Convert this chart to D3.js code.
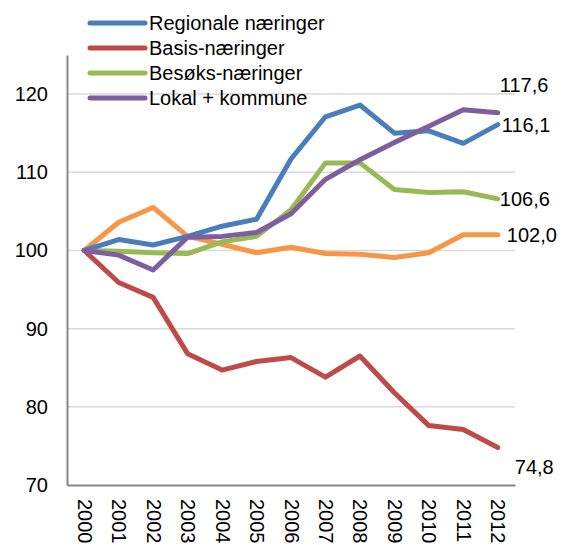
<!DOCTYPE html>
<html>
<head>
<meta charset="utf-8">
<script src="https://cdn.jsdelivr.net/npm/d3@7"></script>
<style>
  body { margin: 0; background: #fff; }
  svg { font-family: "Liberation Sans", Arial, sans-serif; }
</style>
</head>
<body>
<svg id="chart"></svg>
<script>
const years = ["2000", "2001", "2002", "2003", "2004", "2005", "2006", "2007", "2008", "2009", "2010", "2011", "2012"];
const regionale = [100, 101.4, 100.7, 101.8, 103.1, 104.0, 111.7, 117.1, 118.6, 115.0, 115.3, 113.7, 116.1];
const basis = [100, 95.9, 94.0, 86.8, 84.7, 85.8, 86.3, 83.8, 86.5, 81.8, 77.6, 77.1, 74.8];
const besoks = [100, 99.9, 99.7, 99.6, 101.1, 101.8, 105.2, 111.2, 111.2, 107.8, 107.4, 107.5, 106.6];
const lokal = [100, 99.4, 97.5, 101.7, 101.8, 102.3, 104.7, 109.1, 111.6, 113.8, 115.9, 118.0, 117.6];
const total = [100, 103.6, 105.5, 101.8, 100.8, 99.7, 100.4, 99.6, 99.5, 99.1, 99.7, 102.0, 102.0];
const yTicks = [70, 80, 90, 100, 110, 120];

const series = [
    { name: "Total", values: total, color: "#f79646", legend: false, label: "102,0", dx: 9, dy: 0 },
    { name: "Basis-næringer", values: basis, color: "#be4b48", legend: true, label: "74,8", dx: 17, dy: 20 },
    { name: "Besøks-næringer", values: besoks, color: "#98b954", legend: true, label: "106,6", dx: 2, dy: 0 },
    { name: "Regionale næringer", values: regionale, color: "#4a7ebb", legend: true, label: "116,1", dx: 4, dy: 0 },
    { name: "Lokal + kommune", values: lokal, color: "#7d5fa0", legend: true, label: "117,6", dx: 2, dy: -28 }
];
const legendOrder = ["Regionale næringer", "Basis-næringer", "Besøks-næringer", "Lokal + kommune"];

const width = 563, height = 545;
const margin = { top: 55, right: 48, bottom: 60, left: 67 };

const svg = d3.select("#chart").attr("width", width).attr("height", height);

const x = d3.scalePoint().domain(years).range([margin.left, width - margin.right]).padding(0.5);
const y = d3.scaleLinear().domain([70, 125]).range([height - margin.bottom, margin.top]);

// grid
svg.append("g")
    .selectAll("line")
    .data(yTicks.filter(d => d > 70))
    .join("line")
    .attr("x1", margin.left).attr("x2", width - margin.right)
    .attr("y1", d => y(d)).attr("y2", d => y(d))
    .attr("stroke", "#d9d9d9").attr("stroke-width", 1.5);

// axes
const yAxis = svg.append("g")
    .attr("transform", `translate(${margin.left},0)`)
    .call(d3.axisLeft(y).tickValues(yTicks).tickSize(0).tickPadding(19));
yAxis.select(".domain").attr("stroke", "#868686").attr("stroke-width", 2);
yAxis.selectAll("text").attr("font-size", 20).attr("fill", "#000").attr("font-family", "Liberation Sans, Arial, sans-serif");

const xAxis = svg.append("g")
    .attr("transform", `translate(0,${height - margin.bottom})`)
    .call(d3.axisBottom(x).tickSize(0));
xAxis.select(".domain").attr("stroke", "#868686").attr("stroke-width", 2);
xAxis.selectAll("text")
    .attr("font-size", 20).attr("fill", "#000").attr("font-family", "Liberation Sans, Arial, sans-serif")
    .attr("text-anchor", "start")
    .attr("transform", "rotate(90)")
    .attr("x", 14).attr("y", 0).attr("dy", "0.35em");

// lines
const line = d3.line().x((d, i) => x(years[i])).y(d => y(d));
svg.append("g")
    .selectAll("path")
    .data(series)
    .join("path")
    .attr("d", d => line(d.values))
    .attr("fill", "none")
    .attr("stroke", d => d.color)
    .attr("stroke-width", 5)
    .attr("stroke-linejoin", "round")
    .attr("stroke-linecap", "round");

// end labels
svg.append("g")
    .selectAll("text")
    .data(series)
    .join("text")
    .attr("x", d => x(years[years.length - 1]) + d.dx)
    .attr("y", d => y(d.values[d.values.length - 1]) + d.dy)
    .attr("dy", "0.35em")
    .attr("font-size", 20)
    .text(d => d.label);

// legend
const legend = svg.append("g");
const items = legend.selectAll("g")
    .data(legendOrder.map(n => series.find(s => s.name === n)))
    .join("g")
    .attr("transform", (d, i) => `translate(90,${23 + i * 25})`);
items.append("line")
    .attr("x1", 0).attr("x2", 55)
    .attr("stroke", d => d.color).attr("stroke-width", 5)
    .attr("stroke-linecap", "round");
items.append("text")
    .attr("x", 59).attr("dy", "0.35em")
    .attr("font-size", 20)
    .text(d => d.name);
</script>
</body>
</html>
